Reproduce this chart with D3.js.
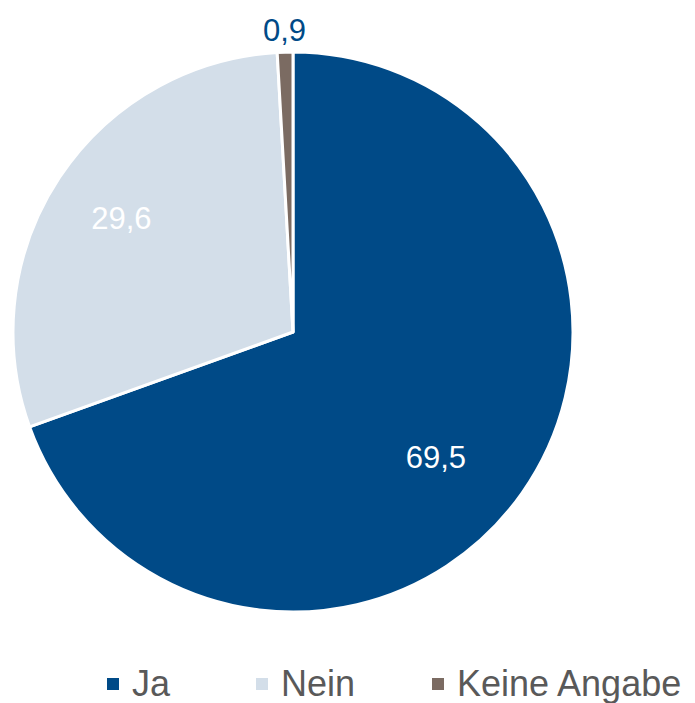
<!DOCTYPE html>
<html>
<head>
<meta charset="utf-8">
<script src="https://cdn.jsdelivr.net/npm/d3@7"></script>
<style>
  body { margin: 0; background: #fff; }
  text { font-family: "Liberation Sans", Arial, sans-serif; }
</style>
</head>
<body>
<div id="chart"></div>
<script>
const categories = ["Ja", "Nein", "Keine Angabe"];
const values = [69.5, 29.6, 0.9];
const colors = ["#004A87", "#D3DEE9", "#7B6B62"];

const width = 695, height = 703;
const cx = 293, cy = 332, radius = 280;

const svg = d3.select("#chart").append("svg")
  .attr("width", width)
  .attr("height", height);

const data = categories.map((c, i) => ({ name: c, value: values[i], color: colors[i] }));

// Pie starts at 12 o'clock and goes clockwise
const pie = d3.pie().sort(null).value(d => d.value);
const arcs = pie(data);

const arc = d3.arc().innerRadius(0).outerRadius(radius);
const outerArc = d3.arc().innerRadius(radius + 22).outerRadius(radius + 22);

const g = svg.append("g").attr("transform", `translate(${cx},${cy})`);

g.selectAll("path")
  .data(arcs)
  .enter().append("path")
  .attr("d", arc)
  .attr("fill", d => d.data.color)
  .attr("stroke", "#fff")
  .attr("stroke-width", 3)
  .attr("stroke-linejoin", "round");

const fmt = v => d3.format(".1f")(v).replace(".", ",");

// label point: big slice a bit more inward and tilted like Excel's best fit
function labelPos(d) {
  if (d.data.value < 5) return outerArc.centroid(d);
  const mid = (d.startAngle + d.endAngle) / 2 + (d.data.value > 50 ? 0.11 : 0);
  const r = radius * (d.data.value > 50 ? 0.68 : 0.735);
  return [Math.sin(mid) * r, -Math.cos(mid) * r];
}

g.selectAll("text.lbl")
  .data(arcs)
  .enter().append("text")
  .attr("class", "lbl")
  .attr("transform", d => `translate(${labelPos(d)})`)
  .attr("text-anchor", "middle")
  .attr("dominant-baseline", "central")
  .style("font-size", "31px")
  .style("fill", d => d.data.value < 5 ? "#004A87" : "#fff")
  .text(d => fmt(d.data.value));

// Legend
const legendX = [107, 256, 432];
const legend = svg.append("g");
const item = legend.selectAll("g")
  .data(data)
  .enter().append("g")
  .attr("transform", (d, i) => `translate(${legendX[i]},683)`);

item.append("rect")
  .attr("x", 0)
  .attr("y", -5)
  .attr("width", 12)
  .attr("height", 12)
  .attr("fill", d => d.color);

item.append("text")
  .attr("x", 25)
  .attr("y", 0)
  .attr("dominant-baseline", "central")
  .style("font-size", "36px")
  .style("fill", "#595959")
  .text(d => d.name);
</script>
</body>
</html>
